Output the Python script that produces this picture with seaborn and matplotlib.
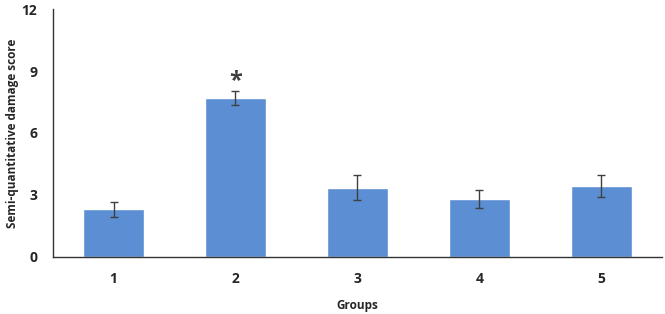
import pandas as pd
import matplotlib.pyplot as plt
import seaborn as sns

# 資料
groups = ['1', '2', '3', '4', '5']
scores = [2.3, 7.7, 3.35, 2.8, 3.45]
errors = [0.38, 0.35, 0.62, 0.45, 0.53]
signif = ['', '*', '', '', '']

df = pd.DataFrame({'Groups': groups, 'score': scores})

sns.set_style('white')
plt.rcParams['font.family'] = ['Open Sans', 'DejaVu Sans']

fig = plt.figure(figsize=(6.65, 3.14), dpi=100)
ax = fig.add_axes([0.079, 0.182, 0.917, 0.789])

sns.barplot(data=df, x='Groups', y='score', color='#5B8ED3', width=0.5,
            saturation=1, errorbar=None, ax=ax)
ax.errorbar(range(len(groups)), scores, yerr=errors, fmt='none',
            ecolor='#404040', elinewidth=1, capsize=3, capthick=1)

# 顯著性標記
for i, s in enumerate(signif):
    if s:
        ax.text(i, scores[i] + errors[i] + 0.45, s, ha='center', va='center',
                fontsize=17, fontweight='bold', color='#404040')

ax.set_ylim(0, 12)
ax.set_yticks([0, 3, 6, 9, 12])
ax.set_xlim(-0.5, len(groups) - 0.5)
ax.set_xlabel('Groups', fontsize=8.5, fontweight='bold', labelpad=9)
ax.set_ylabel('Semi-quantitative damage score', fontsize=8.5, fontweight='bold', labelpad=2)
ax.tick_params(axis='both', length=0, labelsize=10, pad=11)
for lab in ax.get_xticklabels() + ax.get_yticklabels():
    lab.set_fontweight('bold')

sns.despine(ax=ax)
ax.spines['left'].set_color('#333333')
ax.spines['bottom'].set_color('#333333')
ax.spines['left'].set_linewidth(1)
ax.spines['bottom'].set_linewidth(1)

plt.savefig('out.png', dpi=100)
